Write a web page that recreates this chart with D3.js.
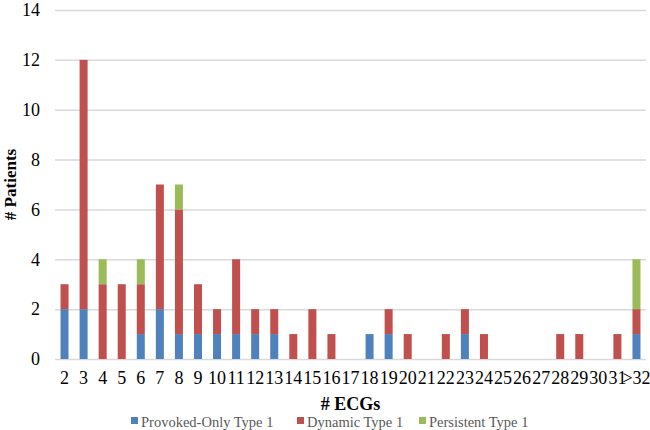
<!DOCTYPE html>
<html>
<head>
<meta charset="utf-8">
<script src="https://cdn.jsdelivr.net/npm/d3@7/dist/d3.min.js"></script>
<style>
  body { margin: 0; background: #fff; }
  svg { display: block; }
</style>
</head>
<body>
<svg id="chart" width="650" height="430"></svg>
<script>
const categories = ["2","3","4","5","6","7","8","9","10","11","12","13","14","15","16","17","18","19","20","21","22","23","24","25","26","27","28","29","30","31",">32"];
const provoked   = [2,2,0,0,1,2,1,1,1,1,1,1,0,0,0,0,1,1,0,0,0,1,0,0,0,0,0,0,0,0,1];
const dynamic    = [1,10,3,3,2,5,5,2,1,3,1,1,1,2,1,0,0,1,1,0,1,1,1,0,0,0,1,1,0,1,1];
const persistent = [0,0,1,0,1,0,1,0,0,0,0,0,0,0,0,0,0,0,0,0,0,0,0,0,0,0,0,0,0,0,2];
const yTicks = [0,2,4,6,8,10,12,14];
const seriesNames = ["Provoked-Only Type 1","Dynamic Type 1","Persistent Type 1"];
const colors = { provoked: "#4F81BD", dynamic: "#C0504D", persistent: "#9BBB59" };

const rows = categories.map((c, i) => ({ cat: c, provoked: provoked[i], dynamic: dynamic[i], persistent: persistent[i] }));
const keys = ["provoked", "dynamic", "persistent"];

const margin = { left: 55, right: 4, top: 10, bottom: 71 };
const width = 650, height = 430;
const innerWidth = width - margin.left - margin.right;
const innerHeight = height - margin.top - margin.bottom;

const svg = d3.select("#chart");
const chart = svg.append("g").attr("transform", `translate(${margin.left},${margin.top})`);

const xScale = d3.scaleBand().domain(categories).range([0, innerWidth]).paddingInner(0.58).paddingOuter(0.29);
const yScale = d3.scaleLinear().domain([0, 14]).range([innerHeight, 0]);

// grid
chart.selectAll(".grid").data(yTicks).join("line")
  .attr("class", "grid")
  .attr("x1", 0).attr("x2", innerWidth)
  .attr("y1", d => yScale(d) + 0.5).attr("y2", d => yScale(d) + 0.5)
  .attr("stroke", "#d9d9d9").attr("stroke-width", 1.5);

// bars
const stacked = d3.stack().keys(keys)(rows);
chart.selectAll(".series").data(stacked).join("g")
  .attr("class", "series")
  .attr("fill", d => colors[d.key])
  .selectAll("rect").data(d => d.filter(p => p[1] > p[0])).join("rect")
  .attr("x", d => xScale(d.data.cat))
  .attr("width", xScale.bandwidth())
  .attr("y", d => yScale(d[1]))
  .attr("height", d => yScale(d[0]) - yScale(d[1]));

// y axis
const yAxis = chart.append("g").call(d3.axisLeft(yScale).tickValues(yTicks).tickSize(0).tickPadding(15));
yAxis.select(".domain").remove();
yAxis.selectAll("text").attr("font-family", "Liberation Serif, serif").attr("font-size", 18).attr("fill", "#000");

// x axis
const xAxis = chart.append("g").attr("transform", `translate(0,${innerHeight})`)
  .call(d3.axisBottom(xScale).tickSize(0).tickPadding(12));
xAxis.select(".domain").remove();
xAxis.selectAll("text").attr("font-family", "Liberation Serif, serif").attr("font-size", 18).attr("fill", "#000");

// axis titles
svg.append("text").attr("x", margin.left + innerWidth / 2).attr("y", 410).attr("text-anchor", "middle")
  .attr("font-family", "Liberation Serif, serif").attr("font-weight", "bold").attr("font-size", 18)
  .text("# ECGs");
svg.append("text").attr("transform", `translate(16,${margin.top + innerHeight / 2}) rotate(-90)`).attr("text-anchor", "middle")
  .attr("font-family", "Liberation Serif, serif").attr("font-weight", "bold").attr("font-size", 17)
  .text("# Patients");

// legend
const legendX = [131, 297, 419];
const legend = svg.append("g");
keys.forEach((k, i) => {
  legend.append("rect").attr("x", legendX[i]).attr("y", 417).attr("width", 7).attr("height", 7).attr("fill", colors[k]);
  legend.append("text").attr("x", legendX[i] + 10).attr("y", 427)
    .attr("font-family", "Liberation Serif, serif").attr("font-size", 14.5).attr("fill", "#595959")
    .text(seriesNames[i]);
});
</script>
</body>
</html>
